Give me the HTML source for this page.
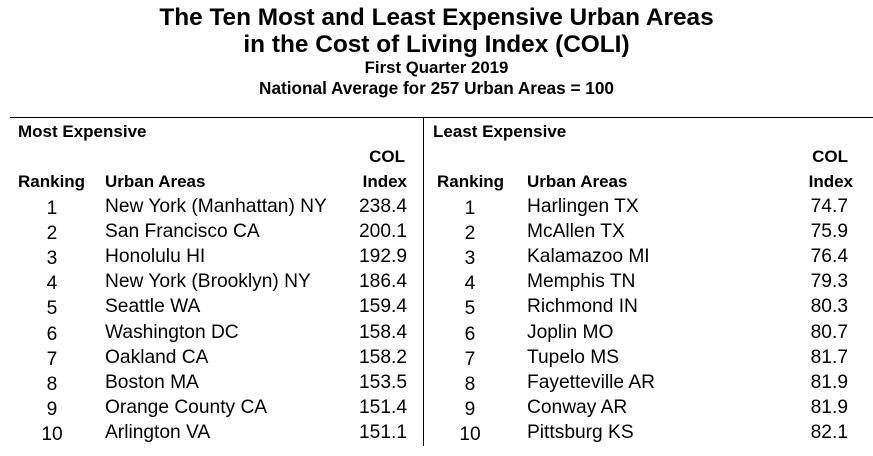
<!DOCTYPE html>
<html><head><meta charset="utf-8"><style>
body{margin:0;width:873px;height:456px;background:#fff;font-family:"Liberation Sans",Arial,sans-serif;color:#000;position:relative;overflow:hidden}
.t{position:absolute;white-space:nowrap;line-height:20px}
.b{font-weight:bold}
.c{text-align:center}
.r{text-align:right}
.h{font-size:17px;font-weight:bold}
.d{font-size:19.2px}
</style></head><body>
<div class="t b c" style="left:0;width:873px;top:6px;font-size:24.4px;line-height:24px">The Ten Most and Least Expensive Urban Areas</div>
<div class="t b c" style="left:0;width:873px;top:33px;font-size:24.4px;line-height:24px">in the Cost of Living Index (COLI)</div>
<div class="t b c" style="left:0;width:873px;top:59px;font-size:16.8px;line-height:18px">First Quarter 2019</div>
<div class="t b c" style="left:0;width:873px;top:79px;font-size:17.2px;line-height:18px">National Average for 257 Urban Areas = 100</div>
<div style="position:absolute;left:10px;right:0;top:117px;height:1px;background:#000"></div>
<div style="position:absolute;left:423px;top:117px;width:1px;height:329px;background:#000"></div>

<div class="t h" style="left:18px;top:122px">Most Expensive</div>
<div class="t h r" style="left:320px;width:85px;top:147px">COL</div>
<div class="t h" style="left:18px;top:172px">Ranking</div>
<div class="t h" style="left:105px;top:172px">Urban Areas</div>
<div class="t h r" style="left:320px;width:87px;top:172px">Index</div>

<div class="t h" style="left:433px;top:122px">Least Expensive</div>
<div class="t h r" style="left:760px;width:88px;top:147px">COL</div>
<div class="t h" style="left:437px;top:172px">Ranking</div>
<div class="t h" style="left:527px;top:172px">Urban Areas</div>
<div class="t h r" style="left:760px;width:93px;top:172px">Index</div>

<div id="rows"></div>
<script>
var L=[["New York (Manhattan) NY","238.4"],["San Francisco CA","200.1"],["Honolulu HI","192.9"],["New York (Brooklyn) NY","186.4"],["Seattle WA","159.4"],["Washington DC","158.4"],["Oakland CA","158.2"],["Boston MA","153.5"],["Orange County CA","151.4"],["Arlington VA","151.1"]];
var R=[["Harlingen TX","74.7"],["McAllen TX","75.9"],["Kalamazoo MI","76.4"],["Memphis TN","79.3"],["Richmond IN","80.3"],["Joplin MO","80.7"],["Tupelo MS","81.7"],["Fayetteville AR","81.9"],["Conway AR","81.9"],["Pittsburg KS","82.1"]];
var h="";
for(var i=0;i<10;i++){var y=197+i*25.1;
h+='<div class="t d c" style="left:32px;width:40px;top:'+(y+2)+'px">'+(i+1)+'</div>';
h+='<div class="t d" style="left:105px;top:'+y+'px">'+L[i][0]+'</div>';
h+='<div class="t d r" style="left:320px;width:87px;top:'+y+'px">'+L[i][1]+'</div>';
h+='<div class="t d c" style="left:450px;width:40px;top:'+(y+2)+'px">'+(i+1)+'</div>';
h+='<div class="t d" style="left:527px;top:'+y+'px">'+R[i][0]+'</div>';
h+='<div class="t d r" style="left:760px;width:88px;top:'+y+'px">'+R[i][1]+'</div>';}
document.getElementById("rows").innerHTML=h;
</script>
</body></html>
